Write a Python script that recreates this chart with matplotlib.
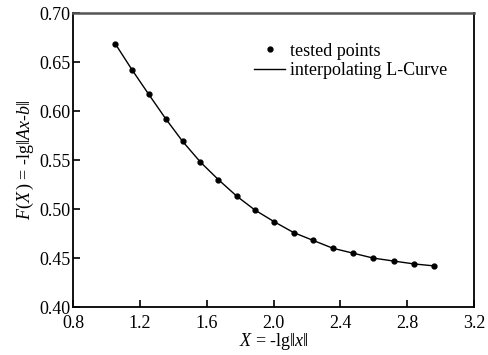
import matplotlib
matplotlib.use("Agg")
import matplotlib.pyplot as plt

plt.rcParams['font.family'] = ['Liberation Serif', 'DejaVu Serif']
plt.rcParams['mathtext.fontset'] = 'custom'
plt.rcParams['mathtext.rm'] = 'Liberation Serif'
plt.rcParams['mathtext.it'] = 'Liberation Serif:italic'

# tested points
x_pts = [1.051, 1.153, 1.253, 1.355, 1.456, 1.562, 1.670, 1.781, 1.889,
         2.005, 2.121, 2.238, 2.356, 2.477, 2.597, 2.719, 2.843, 2.964]
y_pts = [0.669, 0.642, 0.617, 0.592, 0.569, 0.548, 0.530, 0.513, 0.499,
         0.487, 0.476, 0.468, 0.460, 0.455, 0.450, 0.447, 0.444, 0.442]

x_ticks = [0.8, 1.2, 1.6, 2.0, 2.4, 2.8, 3.2]
y_ticks = [0.40, 0.45, 0.50, 0.55, 0.60, 0.65, 0.70]

fig = plt.figure(figsize=(4.88, 3.55), dpi=100)
ax = fig.add_axes([0.150, 0.135, 0.821, 0.828])

ax.plot(x_pts, y_pts, '-', color='black', lw=1.0, label='interpolating L-Curve')
ax.plot(x_pts, y_pts, 'o', color='black', ms=3.5, label='tested points')

ax.set_xlim(0.8, 3.2)
ax.set_ylim(0.40, 0.70)
ax.set_xticks(x_ticks)
ax.set_xticklabels([f'{t:.1f}' for t in x_ticks])
ax.set_yticks(y_ticks)
ax.set_yticklabels([f'{t:.2f}' for t in y_ticks])
ax.tick_params(direction='in', length=5, width=1.2, labelsize=13,
               top=False, right=False)
ax.tick_params(axis='x', pad=5.5)
ax.tick_params(axis='y', pad=2)

for side in ['left', 'bottom', 'right']:
    ax.spines[side].set_linewidth(1.3)
ax.spines['top'].set_linewidth(1.8)
ax.spines['top'].set_color('#555555')

ax.set_xlabel(r'$X$ = -lg‖$x$‖', fontsize=13, labelpad=-0.5)
ax.set_ylabel(r'$F(X\,)$ = -lg‖$Ax$-$b$‖', fontsize=13, labelpad=2)

h, l = ax.get_legend_handles_labels()
ax.legend([h[1], h[0]], [l[1], l[0]], loc='upper right',
          bbox_to_anchor=(0.975, 0.955), frameon=False, fontsize=13,
          handlelength=1.7, handletextpad=0.3, labelspacing=0.15)

fig.savefig('out.png', dpi=100)
